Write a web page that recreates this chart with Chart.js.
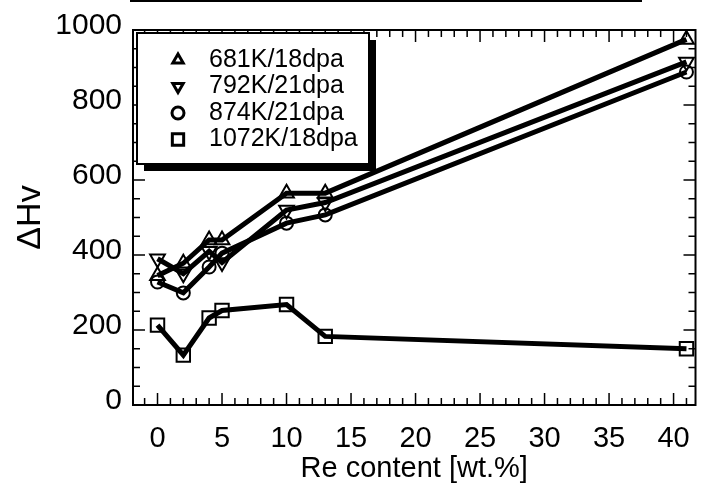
<!DOCTYPE html>
<html lang="en">
<head>
    <meta charset="UTF-8">
    <title>Re content vs Hv</title>
    <script src="https://cdn.jsdelivr.net/npm/chart.js@4.4.1/dist/chart.umd.min.js"></script>
    <style>
        body{
            margin: 0;
            background: #fff;
        }
        .wrap{
            position: relative;
            width: 707px;
            height: 486px;
        }
        .scanline{
            position: absolute;
            left: 130px;
            top: 0px;
            width: 512px;
            height: 2px;
            background: #000;
        }
    </style>
</head>
<body>
    <div class="wrap">
        <canvas id="miCanvas" width="707" height="486"></canvas>
        <div class="scanline"></div>
    </div>
    <script>
        // data
        const reContent = [0, 2, 4, 5, 10, 13, 41];
        const hv681 = [345, 378, 440, 440, 565, 565, 975];
        const hv792 = [390, 350, 410, 380, 520, 540, 915];
        const hv874 = [328, 299, 368, 405, 485, 507, 888];
        const hv1072 = [213, 133, 232, 252, 268, 183, 150];
        const seriesLabels = ["681K/18dpa", "792K/21dpa", "874K/21dpa", "1072K/18dpa"];
        const xTicks = [0, 5, 10, 15, 20, 25, 30, 35, 40];
        const yTicks = [0, 200, 400, 600, 800, 1000];

        const fontFam = "'Liberation Sans', Arial, Helvetica, sans-serif";

        const toPoints = (vals) => reContent.map((x, i) => ({x: x, y: vals[i]}));

        const mkSet = (label, vals, style, rot, r) => ({
            label: label,
            data: toPoints(vals),
            borderColor: '#000',
            borderWidth: 5,
            pointStyle: style,
            pointRotation: rot,
            pointRadius: r,
            pointBorderWidth: 2,
            pointBorderColor: '#000',
            pointBackgroundColor: 'rgba(0,0,0,0)',
            tension: 0
        });

        // inward ticks on all four sides + frame, and the boxed legend
        const framePlugin = {
            id: 'frame',
            beforeDatasetsDraw(chart) {
                const {ctx, chartArea: a, scales} = chart;
                ctx.save();
                ctx.strokeStyle = '#000';
                ctx.lineWidth = 1.5;
                for (let v = -1; v <= 41; v++) {
                    const px = scales.x.getPixelForValue(v);
                    const len = v % 5 === 0 ? 12 : 7;
                    ctx.beginPath();
                    ctx.moveTo(px, a.bottom); ctx.lineTo(px, a.bottom - len);
                    ctx.moveTo(px, a.top); ctx.lineTo(px, a.top + len);
                    ctx.stroke();
                }
                for (let v = 0; v <= 1000; v += 50) {
                    const py = scales.y.getPixelForValue(v);
                    const len = v % 200 === 0 ? 12 : 7;
                    ctx.beginPath();
                    ctx.moveTo(a.left, py); ctx.lineTo(a.left + len, py);
                    ctx.moveTo(a.right, py); ctx.lineTo(a.right - len, py);
                    ctx.stroke();
                }
                ctx.lineWidth = 2;
                ctx.strokeRect(a.left, a.top, a.right - a.left, a.bottom - a.top);
                ctx.restore();
            },
            afterDatasetsDraw(chart) {
                const {ctx, chartArea: a} = chart;
                const bx = a.left + 4, by = a.top + 3, bw = 232, bh = 131;
                ctx.save();
                ctx.fillStyle = '#000';
                ctx.fillRect(bx + 7, by + 7, bw, bh);
                ctx.fillStyle = '#fff';
                ctx.fillRect(bx, by, bw, bh);
                ctx.strokeStyle = '#000';
                ctx.lineWidth = 2;
                ctx.strokeRect(bx, by, bw, bh);
                ctx.font = "25px " + fontFam;
                ctx.textBaseline = 'middle';
                chart.data.datasets.forEach((ds, i) => {
                    const ry = by + 27 + i * 26.5;
                    ctx.fillStyle = '#fff';
                    ctx.strokeStyle = '#000';
                    ctx.lineWidth = 3;
                    Chart.helpers.drawPoint(ctx, {
                        pointStyle: ds.pointStyle,
                        rotation: ds.pointRotation,
                        radius: ds.pointStyle === 'rect' ? 8 : 6,
                        borderWidth: 3
                    }, bx + 41, ry);
                    ctx.fillStyle = '#000';
                    ctx.fillText(ds.label, bx + 72, ry);
                });
                ctx.restore();
            }
        };

        const miCanvas = document.getElementById("miCanvas").getContext("2d");
        window.miCanva = new Chart(miCanvas, {
            type: 'line',
            data: {
                datasets: [
                    mkSet(seriesLabels[0], hv681, 'triangle', 0, 8.5),
                    mkSet(seriesLabels[1], hv792, 'triangle', 180, 8.5),
                    mkSet(seriesLabels[2], hv874, 'circle', 0, 6.5),
                    mkSet(seriesLabels[3], hv1072, 'rect', 0, 9.5)
                ]
            },
            plugins: [framePlugin],
            options: {
                responsive: false,
                animation: false,
                layout: {padding: {left: 0, right: 4, top: 30, bottom: 0}},
                plugins: {
                    legend: {display: false},
                    tooltip: {enabled: false}
                },
                scales: {
                    x: {
                        type: 'linear',
                        min: -1.9,
                        max: 41.7,
                        afterBuildTicks: (s) => { s.ticks = xTicks.map(v => ({value: v})); },
                        afterFit: (s) => { s.height = 81; },
                        grid: {display: false},
                        border: {display: false},
                        ticks: {
                            color: '#000',
                            padding: 9,
                            callback: (v) => String(v),
                            font: {family: fontFam, size: 29}
                        },
                        title: {
                            display: true,
                            text: 'Re content [wt.%]',
                            color: '#000',
                            padding: {top: 0, bottom: 0},
                            font: {family: fontFam, size: 29}
                        }
                    },
                    y: {
                        min: 0,
                        max: 1000,
                        afterBuildTicks: (s) => { s.ticks = yTicks.map(v => ({value: v})); },
                        afterFit: (s) => { s.width = 133; },
                        grid: {display: false},
                        border: {display: false},
                        ticks: {
                            color: '#000',
                            padding: 3,
                            labelOffset: -4,
                            callback: (v) => String(v),
                            font: {family: fontFam, size: 30}
                        },
                        title: {
                            display: true,
                            text: 'ΔHv',
                            color: '#000',
                            padding: {top: 10, bottom: 0},
                            font: {family: fontFam, size: 34}
                        }
                    }
                }
            }
        });
    </script>
</body>
</html>
